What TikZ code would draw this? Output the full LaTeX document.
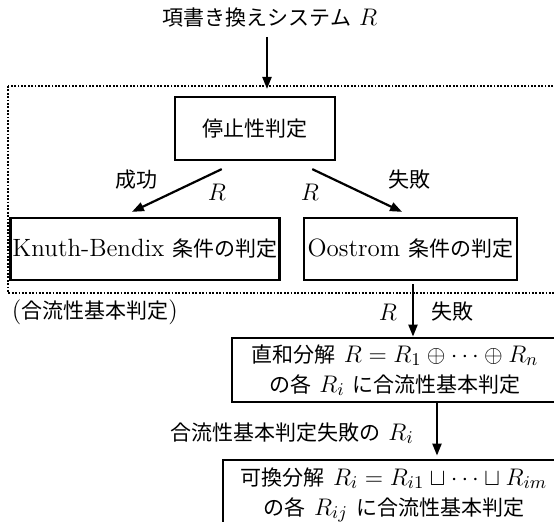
\documentclass[tikz,border=0pt]{standalone}
\usepackage{fontspec}
\newfontfamily\jp{Noto Sans CJK JP}[Scale=0.84]
\usetikzlibrary{arrows.meta}

\begin{document}
\begin{tikzpicture}[x=0.5pt,y=-0.5pt,
	every node/.style={font=\fontsize{12.5}{15}\selectfont},
	box/.style={draw,line width=1.4pt,inner sep=1pt,align=center},
	arr/.style={line width=1.1pt,-{Triangle[length=6pt,width=4.5pt]}},
	area/.style={line width=0.9pt,dash pattern=on 0.9pt off 0.8pt}]

	\clip (0,0) rectangle (554,522);

	% Eingabe
	\node (title) at (270,18) {{\jp 項書き換えシステム} $R$};
	\coordinate (entry) at (267,89);

	% Bereich: Grundentscheidung
	\draw[area] (8,86) rectangle (570,293);
	\node[box,minimum width=80pt,minimum height=31.5pt] (stop) at (255,128.5) {\jp 停止性判定};
	\node[box,minimum width=128pt,minimum height=31pt] (kb) at (145,249) {Knuth-Bendix {\jp 条件の判定}};
	\node[box,minimum width=106.5pt,minimum height=31pt] (oost) at (410.5,249) {Oostrom {\jp 条件の判定}};
	\node (succ) at (137,180) {\jp 成功};
	\node (rl) at (217,192) {$R$};
	\node (rr) at (310,192) {$R$};
	\node (fail) at (410,180) {\jp 失敗};
	\node (basic) at (95,312) {({\jp 合流性基本判定})};

	% Zerlegungen
	\node[box,minimum width=163pt,minimum height=32pt] (dsum) at (395,370)
		{{\jp 直和分解} $R=R_1\oplus\cdots\oplus R_n$\\{\jp の各} $R_i$ {\jp に合流性基本判定}};
	\node[box,minimum width=171pt,minimum height=35pt] (comm) at (394,495)
		{{\jp 可換分解} $R_i=R_{i1}\sqcup\cdots\sqcup R_{im}$\\{\jp の各} $R_{ij}$ {\jp に合流性基本判定}};
	\node (rd) at (388,312) {$R$};
	\node (faild) at (453,312) {\jp 失敗};
	\node (faili) at (292,433) {{\jp 合流性基本判定失敗の} $R_i$};

	% Pfeile
	\draw[arr,shorten <=1pt] (title.south -| entry) -- (entry);
	\draw[arr,shorten <=9pt,shorten >=5.5pt] ([xshift=-8.5pt]stop.south) -- ([xshift=-11.5pt]kb.north);
	\draw[arr,shorten <=9pt,shorten >=5.5pt] ([xshift=20.5pt]stop.south) -- ([xshift=0.75pt]oost.north);
	\draw[arr,shorten <=1.5pt] ([xshift=1.25pt]oost.south) -- ([xshift=1.25pt]oost.south |- dsum.north);
	\draw[arr,shorten >=1.5pt] ([xshift=21pt]dsum.south) -- ([xshift=21pt]dsum.south |- comm.north);

\end{tikzpicture}
\end{document}
